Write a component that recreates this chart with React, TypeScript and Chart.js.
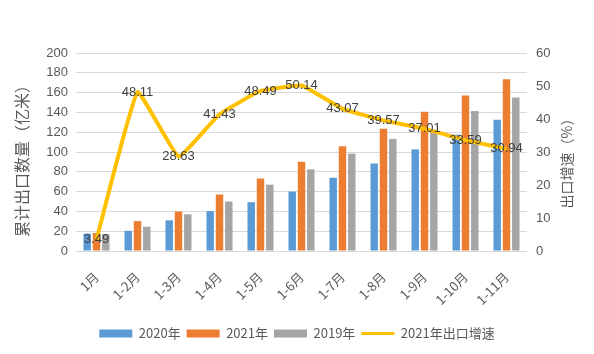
import React, { useEffect, useRef } from "react";
import { Chart, registerables } from "chart.js";

Chart.register(...registerables);

const categories = ["1月", "1-2月", "1-3月", "1-4月", "1-5月", "1-6月", "1-7月", "1-8月", "1-9月", "1-10月", "1-11月"];
const series2020 = [17.5, 20.4, 31, 40.3, 49.3, 60, 74, 88.4, 102.7, 117.5, 132.6];
const series2021 = [18.1, 30.2, 39.9, 57, 73.2, 90.1, 105.9, 123.4, 140.7, 157, 173.6];
const series2019 = [17, 24.5, 37, 50, 67, 82.5, 98.3, 113.2, 121, 141.4, 155];
const growth2021 = [3.49, 48.11, 28.63, 41.43, 48.49, 50.14, 43.07, 39.57, 37.01, 33.59, 30.94];
const leftTicks = [0, 20, 40, 60, 80, 100, 120, 140, 160, 180, 200];
const rightTicks = [0, 10, 20, 30, 40, 50, 60];

const FONT = "'Liberation Sans', Arial, sans-serif";
const CJK = "'Noto Sans CJK SC', 'Liberation Sans', sans-serif";

export default function App() {
  const ref = useRef<HTMLCanvasElement | null>(null);

  useEffect(() => {
    if (!ref.current) return;

    const labelPlugin = {
      id: "lineLabels",
      afterDatasetsDraw(chart: any) {
        const ctx = chart.ctx;
        const meta = chart.getDatasetMeta(3);
        ctx.save();
        ctx.font = `13px ${FONT}`;
        ctx.fillStyle = "#404040";
        ctx.textAlign = "center";
        ctx.textBaseline = "middle";
        meta.data.forEach((pt: any, i: number) => {
          ctx.fillText(growth2021[i].toFixed(2), pt.x, pt.y);
        });
        ctx.restore();
      },
    };

    const titlePlugin = {
      id: "axisTitles",
      afterDraw(chart: any) {
        const ctx = chart.ctx;
        const area = chart.chartArea;
        const cy = (area.top + area.bottom) / 2;
        ctx.save();
        ctx.fillStyle = "#595959";
        ctx.textAlign = "center";
        ctx.textBaseline = "middle";
        ctx.font = `16px ${CJK}`;
        ctx.translate(22, cy + 5);
        ctx.rotate(-Math.PI / 2);
        ctx.fillText("累计出口数量（亿米）", 0, 0);
        ctx.restore();
        ctx.save();
        ctx.fillStyle = "#595959";
        ctx.textAlign = "center";
        ctx.textBaseline = "middle";
        ctx.font = `14px ${CJK}`;
        ctx.translate(567, cy + 8);
        ctx.rotate(-Math.PI / 2);
        ctx.fillText("出口增速（%）", 0, 0);
        ctx.restore();
      },
    };

    const chart = new Chart(ref.current, {
      type: "bar",
      data: {
        labels: categories,
        datasets: [
          { label: "2020年", data: series2020, backgroundColor: "#5B9BD5", yAxisID: "y", order: 1, categoryPercentage: 0.68, barPercentage: 0.8 },
          { label: "2021年", data: series2021, backgroundColor: "#ED7D31", yAxisID: "y", order: 1, categoryPercentage: 0.68, barPercentage: 0.8 },
          { label: "2019年", data: series2019, backgroundColor: "#A5A5A5", yAxisID: "y", order: 1, categoryPercentage: 0.68, barPercentage: 0.8 },
          {
            type: "line",
            label: "2021年出口增速",
            data: growth2021,
            borderColor: "#FFC000",
            backgroundColor: "#FFC000",
            borderWidth: 4,
            pointRadius: 0,
            tension: 0.1,
            borderJoinStyle: "round",
            yAxisID: "y1",
            order: 0,
          } as any,
        ],
      },
      options: {
        animation: false,
        responsive: true,
        maintainAspectRatio: false,
        layout: { padding: { top: 53, left: 0, right: 0, bottom: 4 } },
        plugins: {
          tooltip: { enabled: false },
          legend: {
            position: "bottom",
            labels: {
              usePointStyle: true,
              pointStyleWidth: 33,
              boxHeight: 8,
              padding: 6,
              color: "#595959",
              font: { family: CJK, size: 13 },
              sort: (a: any, b: any) => a.datasetIndex - b.datasetIndex,
              generateLabels(chart: any) {
                const items = Chart.defaults.plugins.legend.labels.generateLabels(chart);
                return items.map((it: any) => {
                  if (it.datasetIndex === 3) {
                    return { ...it, pointStyle: "line", lineWidth: 3, strokeStyle: "#FFC000" };
                  }
                  return { ...it, pointStyle: "rect", lineWidth: 0 };
                });
              },
            },
          },
        },
        scales: {
          x: {
            grid: { display: false },
            border: { display: false },
            ticks: {
              minRotation: 45,
              maxRotation: 45,
              color: "#595959",
              padding: 10,
              font: { family: CJK, size: 13 },
            },
            afterFit(scale: any) {
              scale.height = 70;
            },
          },
          y: {
            position: "left",
            min: 0,
            max: 200,
            afterBuildTicks(scale: any) {
              scale.ticks = leftTicks.map((v) => ({ value: v }));
            },
            grid: { color: "#D9D9D9", drawTicks: false },
            border: { display: false },
            ticks: { color: "#595959", padding: 8, font: { family: FONT, size: 13 } },
            afterFit(scale: any) {
              scale.width = 76;
            },
          },
          y1: {
            position: "right",
            min: 0,
            max: 60,
            afterBuildTicks(scale: any) {
              scale.ticks = rightTicks.map((v) => ({ value: v }));
            },
            grid: { display: false, drawTicks: false },
            border: { display: false },
            ticks: { color: "#595959", padding: 9, font: { family: FONT, size: 13 } },
            afterFit(scale: any) {
              scale.width = 67;
            },
          },
        },
      } as any,
      plugins: [labelPlugin, titlePlugin],
    });

    return () => chart.destroy();
  }, []);

  return (
    <div style={{ position: "fixed", left: 0, top: 0, width: 594, height: 354, background: "#fff" }}>
      <canvas ref={ref} />
    </div>
  );
}
